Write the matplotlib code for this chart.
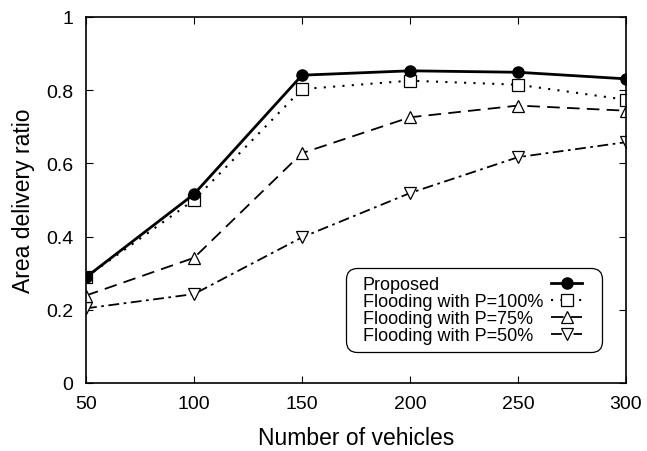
import numpy as np
import matplotlib.pyplot as plt
from matplotlib.offsetbox import DrawingArea

plt.rcParams['font.family'] = ['Liberation Sans', 'DejaVu Sans']

# data
vehicles = [50, 100, 150, 200, 250, 300]
proposed = [0.289, 0.516, 0.841, 0.853, 0.849, 0.831]
flood_100 = [0.289, 0.500, 0.803, 0.826, 0.815, 0.774]
flood_75 = [0.239, 0.342, 0.628, 0.726, 0.758, 0.744]
flood_50 = [0.204, 0.243, 0.398, 0.519, 0.617, 0.658]

x_ticks = [50, 100, 150, 200, 250, 300]
y_ticks = [0, 0.2, 0.4, 0.6, 0.8, 1]
y_tick_labels = ['0', '0.2', '0.4', '0.6', '0.8', '1']

# plot
fig = plt.figure(figsize=(6.47, 4.52), dpi=100)
ax = fig.add_axes([86 / 647, 1 - 384 / 452, 540 / 647, 366 / 452])

ax.plot(vehicles, flood_50, color='black', lw=1.3, ls=(0, (6, 2.5, 1.5, 2.5)),
        marker='v', ms=8, mfc='white', mec='black', mew=0.9,
        label='Flooding with P=50%')
ax.plot(vehicles, flood_75, color='black', lw=1.3, ls=(0, (7, 4)),
        marker='^', ms=8, mfc='white', mec='black', mew=0.9,
        label='Flooding with P=75%')
ax.plot(vehicles, flood_100, color='black', lw=1.5, ls=(0, (1, 3.5)),
        marker='s', ms=8, mfc='white', mec='black', mew=0.9,
        label='Flooding with P=100%')
ax.plot(vehicles, proposed, color='black', lw=2, ls='-',
        marker='o', ms=8, mfc='black', mec='black',
        label='Proposed')

ax.set_xlim(50, 300)
ax.set_ylim(0, 1)
ax.set_xticks(x_ticks)
ax.set_yticks(y_ticks)
ax.set_yticklabels(y_tick_labels)
ax.tick_params(direction='in', top=True, right=True, length=5, width=0.8,
               labelsize=14, pad=9)
ax.set_xlabel('Number of vehicles', fontsize=16.5, labelpad=10)
ax.set_ylabel('Area delivery ratio', fontsize=16.5, labelpad=8)
for sp in ax.spines.values():
    sp.set_linewidth(1.2)

handles, labels = ax.get_legend_handles_labels()
leg = ax.legend(handles[::-1], labels[::-1], loc='lower right',
                bbox_to_anchor=(0.9556, 0.0847), borderaxespad=0,
                markerfirst=False, fontsize=13, frameon=True, fancybox=True,
                handlelength=1.7, labelspacing=0.0, borderpad=0.45,
                handletextpad=0.45, edgecolor='black', framealpha=1)
leg.get_frame().set_linewidth(0.9)
leg.get_frame().set_boxstyle('round,pad=0,rounding_size=0.6')

# left-align legend text, keep the samples in a column on the right
fig.canvas.draw()
renderer = fig.canvas.get_renderer()
col = leg._legend_handle_box.get_children()[0]
items = col.get_children()
w = max(it.get_bbox(renderer).width for it in items)
col.width = w
for it in items:
    it.mode = 'expand'

# extra side padding only (not top/bottom)
pad_l = DrawingArea(6, 0)
pad_r = DrawingArea(8.5, 0)
for da in (pad_l, pad_r):
    da.set_figure(fig)
leg._legend_handle_box._children = [pad_l, col, pad_r]
leg._legend_handle_box.sep = 0

plt.savefig('out.png', dpi=100)
